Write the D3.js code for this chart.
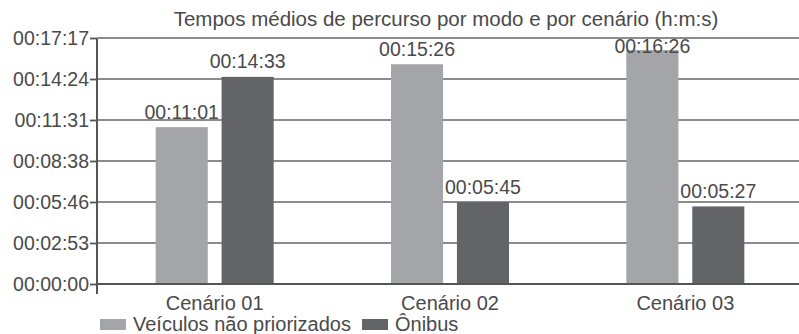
<!DOCTYPE html>
<html><head><meta charset="utf-8">
<script src="https://cdn.jsdelivr.net/npm/d3@7"></script>
<style>body{margin:0;background:#fff}svg{display:block}text{font-family:"Liberation Sans",Arial,sans-serif;fill:#4a4a4a}</style>
</head><body><svg id="c" width="799" height="334"></svg>
<script>
const title = "Tempos médios de percurso por modo e por cenário (h:m:s)";
const categories = ["Cenário 01", "Cenário 02", "Cenário 03"];
const seriesNames = ["Veículos não priorizados", "Ônibus"];
const veiculos = ["00:11:01", "00:15:26", "00:16:26"];
const onibus = ["00:14:33", "00:05:45", "00:05:27"];
const yMaxSeconds = 1036.8;   // 00:17:17 (0.012 day)
const yStepSeconds = 172.8;   // 00:02:53 (0.002 day)
const colors = ["#a3a5a8", "#636467"];

const toSec = s => { const [h, m, sec] = s.split(":").map(Number); return h * 3600 + m * 60 + sec; };
const fmt = v => { const t = Math.round(v); const h = Math.floor(t / 3600), m = Math.floor(t % 3600 / 60), s = t % 60; return [h, m, s].map(d => String(d).padStart(2, "0")).join(":"); };

const seriesVals = [veiculos, onibus];
const svg = d3.select("#c");
const L = 97, R = 803, T = 38, B = 284;
const x0 = d3.scaleBand().domain(categories).range([L, R]);
const groupW = 118;
const x1 = d3.scaleBand().domain(seriesNames).range([(x0.bandwidth() - groupW) / 2, (x0.bandwidth() + groupW) / 2]).paddingInner(0.21);
const y = d3.scaleLinear().domain([0, yMaxSeconds]).range([B, T]);
const ticks = d3.range(0, 7).map(i => i * yStepSeconds);

// gridlines
svg.append("g").selectAll("line").data(ticks.filter(t => t > 0)).join("line")
  .attr("x1", L).attr("x2", 799).attr("y1", d => y(d)).attr("y2", d => y(d))
  .attr("stroke", "#8c8c8c").attr("stroke-width", 1.8);

// y axis
const yAxis = svg.append("g").attr("transform", `translate(${L},0)`)
  .call(d3.axisLeft(y).tickValues(ticks).tickFormat(fmt).tickSize(7).tickPadding(1));
yAxis.select(".domain").remove();
yAxis.selectAll(".tick line").attr("stroke", "#555").attr("stroke-width", 1.8);
yAxis.selectAll(".tick text").attr("font-size", 19.5).style("fill", "#4a4a4a").attr("dy", "0.34em");

// bars
categories.forEach((c, ci) => {
  seriesNames.forEach((s, si) => {
    const v = toSec(seriesVals[si][ci]);
    const bx = x0(c) + x1(s);
    svg.append("rect").attr("x", bx).attr("width", x1.bandwidth())
      .attr("y", y(v)).attr("height", B - y(v)).attr("fill", colors[si]);
    const ly = Math.max(y(v) - 8.5, T + 15);
    svg.append("text").attr("x", bx + x1.bandwidth() / 2).attr("y", ly)
      .attr("text-anchor", "middle").attr("font-size", 19.5).text(seriesVals[si][ci]);
  });
});

// axes lines
svg.append("line").attr("x1", L).attr("x2", L).attr("y1", T).attr("y2", B + 10).attr("stroke", "#555").attr("stroke-width", 2);
svg.append("line").attr("x1", L).attr("x2", 799).attr("y1", B).attr("y2", B).attr("stroke", "#555").attr("stroke-width", 2);
svg.append("line").attr("x1", L).attr("x2", 799).attr("y1", T).attr("y2", T).attr("stroke", "#8c8c8c").attr("stroke-width", 1.8);

// category labels
svg.append("g").selectAll("text").data(categories).join("text")
  .attr("x", d => x0(d) + x0.bandwidth() / 2).attr("y", 310)
  .attr("text-anchor", "middle").attr("font-size", 20).text(d => d);

// title
svg.append("text").attr("x", 446).attr("y", 26).attr("text-anchor", "middle").attr("font-size", 20.5).text(title);

// legend
const lg = svg.append("g");
const legendX = [100, 362];
seriesNames.forEach((s, i) => {
  lg.append("rect").attr("x", legendX[i]).attr("y", 319).attr("width", 26).attr("height", 11).attr("fill", colors[i]);
  lg.append("text").attr("x", legendX[i] + 33).attr("y", 331).attr("font-size", 20).text(s);
});
</script></body></html>
